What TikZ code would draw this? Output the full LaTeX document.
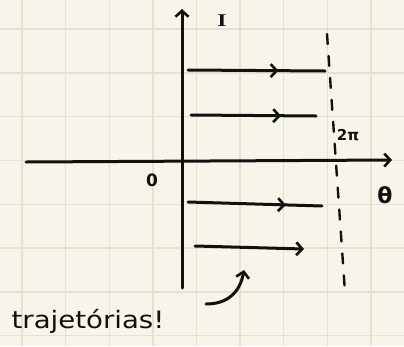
\documentclass[tikz,border=0pt]{standalone}
\usepackage{fontspec}
\setmainfont{DejaVu Sans}
\newfontfamily\serifI{Liberation Serif}
\usetikzlibrary{arrows.meta,decorations.markings}
\definecolor{paper}{HTML}{F7F5EA}
\definecolor{gridc}{HTML}{E4E1D1}
\definecolor{ink}{HTML}{111111}
\tikzset{
  ink/.style={draw=ink,line width=3pt,line cap=round,line join=round},
  barb/.style={-{Straight Barb[length=6pt,width=13pt,line width=2.6pt]}},
  midbarb/.style={postaction={decorate},decoration={markings,
     mark=at position #1 with {\arrow{Straight Barb[length=6pt,width=13pt,line width=2.6pt]}}}},
  lab/.style={inner sep=0pt,text=ink}
}
\begin{document}
\begin{tikzpicture}[x=1pt,y=-1pt]
\useasboundingbox (0,0) rectangle (404,346);
\fill[paper] (0,0) rectangle (404,346);
% grid
\foreach \gx in {22,65.6,109.2,152.8,196.4,240,283.6,327.2,370.8}
  \draw[gridc,line width=1.4pt] (\gx,0) -- (\gx,346);
\foreach \gy in {29,72.8,116.6,160.4,204.2,248,291.8,335.6}
  \draw[gridc,line width=1.4pt] (0,\gy) -- (404,\gy);
% axes
\coordinate (yb) at (182,288);
\coordinate (yt) at (182,9);
\coordinate (xl) at (26,162);
\coordinate (xr) at (392,160);
\draw[ink,barb] (yb) -- (yt);
\draw[ink,barb] (xl) -- (xr);
% trajectories
\coordinate (a1) at (188,70); \coordinate (b1) at (325,71);
\coordinate (a2) at (191,115); \coordinate (b2) at (316,116);
\coordinate (a3) at (188,202); \coordinate (b3) at (322,206);
\coordinate (a4) at (195,246); \coordinate (b4) at (304,249);
\draw[ink,midbarb=0.66] (a1) -- (b1);
\draw[ink,midbarb=0.72] (a2) -- (b2);
\draw[ink,midbarb=0.73] (a3) -- (b3);
\draw[ink,barb] (a4) -- (b4);
% dashed line
\coordinate (d1) at (327,34);
\coordinate (d2) at (345,292);
\draw[ink,line width=2.4pt,dash pattern=on 10pt off 12pt] (d1) -- (d2);
% labels
\node[lab,font=\serifI\fontsize{18}{18}\selectfont\bfseries,xscale=1.3] (I) at (222,21) {I};
\node[lab,font=\fontsize{15}{15}\selectfont\bfseries] (tp) at (348,135) {2π};
\node[lab,font=\fontsize{22}{22}\selectfont\bfseries] (th) at (385,195) {θ};
\node[lab,font=\fontsize{17}{17}\selectfont\bfseries] (o) at (152,180) {0};
\node[lab,font=\fontsize{24}{24}\selectfont,xscale=1.15] (tr) at (88,321) {trajetórias!};
% pointer
\coordinate (p1) at (206,304);
\coordinate (p2) at (244,270);
\draw[ink,barb] (p1) .. controls (228,304) and (240,292) .. (p2);
\end{tikzpicture}
\end{document}
